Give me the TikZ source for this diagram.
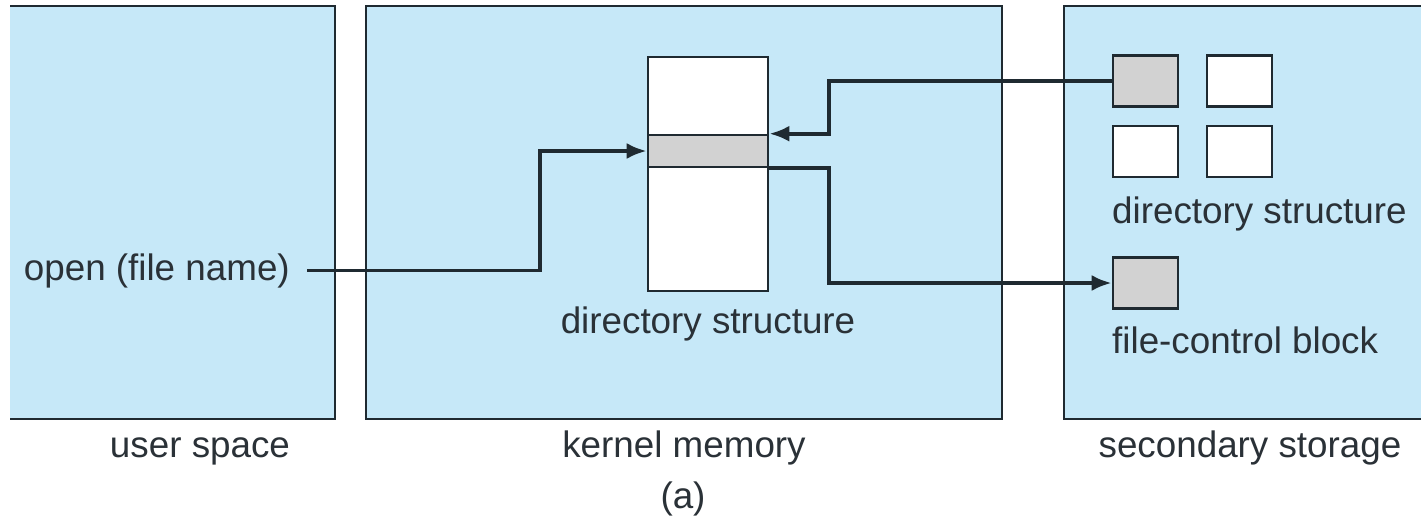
\documentclass[tikz,border=0pt]{standalone}
\usepackage{fontspec}
\setmainfont{Liberation Sans}
\usetikzlibrary{arrows.meta,calc}
\definecolor{MemBlue}{HTML}{C6E8F8}
\definecolor{BlockGray}{HTML}{D2D2D2}
\definecolor{Ink}{HTML}{1F2A31}
\definecolor{TextInk}{HTML}{2A3137}

\begin{document}
\begin{tikzpicture}[x=1pt,y=-1pt,font=\fontsize{36.8}{44}\selectfont,
    edge/.style={draw=Ink,line width=2.6pt},
    block/.style={draw=Ink,line width=2.6pt,inner sep=0pt,minimum width=65pt,minimum height=51pt},
    conn/.style={draw=Ink,line width=3.8pt,-{Latex[length=20pt,width=16pt]}},
    lbl/.style={inner sep=0pt,text=TextInk}]
    \useasboundingbox (0,0) rectangle (1421,523);
    % memory regions
    \fill[MemBlue] (10,6) rectangle (335,419);
    \draw[edge] (10,6) -| (335,419) -- (10,419);
    \filldraw[fill=MemBlue,edge] (366,6) rectangle (1002,419);
    \fill[MemBlue] (1064,6) rectangle (1421,419);
    \draw[edge] (1421,6) -| (1064,419) -- (1421,419);
    % in-memory directory structure
    \node[block,fill=white,minimum width=120pt,minimum height=234pt] (dircol) at (708,174) {};
    \node[block,fill=BlockGray,minimum width=120pt,minimum height=32pt] (band) at (708,151) {};
    \node[lbl,anchor=base] (kdir) at (708,333) {directory structure};
    % on-disk blocks
    \node[block,fill=BlockGray] (dsq1) at (1145.5,81) {};
    \node[block,fill=white]     (dsq2) at (1239.5,81) {};
    \node[block,fill=white]     (dsq3) at (1145.5,151.5) {};
    \node[block,fill=white]     (dsq4) at (1239.5,151.5) {};
    \node[lbl,anchor=base west] (sdir) at (1112,223) {directory structure};
    \node[block,fill=BlockGray] (fcb) at (1145.5,283) {};
    \node[lbl,anchor=base west] (fcblbl) at (1112,353) {file-control block};
    % labels
    \node[lbl,anchor=base east] (openlbl) at (290,280) {open (file name)};
    \node[lbl,anchor=base] (usrlbl) at (200,457) {user space};
    \node[lbl,anchor=base] (kerlbl) at (684,457) {kernel memory};
    \node[lbl,anchor=base] (seclbl) at (1250,457) {secondary storage};
    \node[lbl,anchor=base] (sublbl) at (683,508) {(a)};
    % connectors
    \draw[conn] ([xshift=17pt]openlbl.east) -| ($(band.west)+(-107,0)$) -- (band.west);
    \draw[conn] (dsq1.west) -| ($(band.north east)+(60,0)$) -- (band.north east);
    \draw[conn] (band.south east) -- ++(60,0) |- (fcb.west);
\end{tikzpicture}
\end{document}
